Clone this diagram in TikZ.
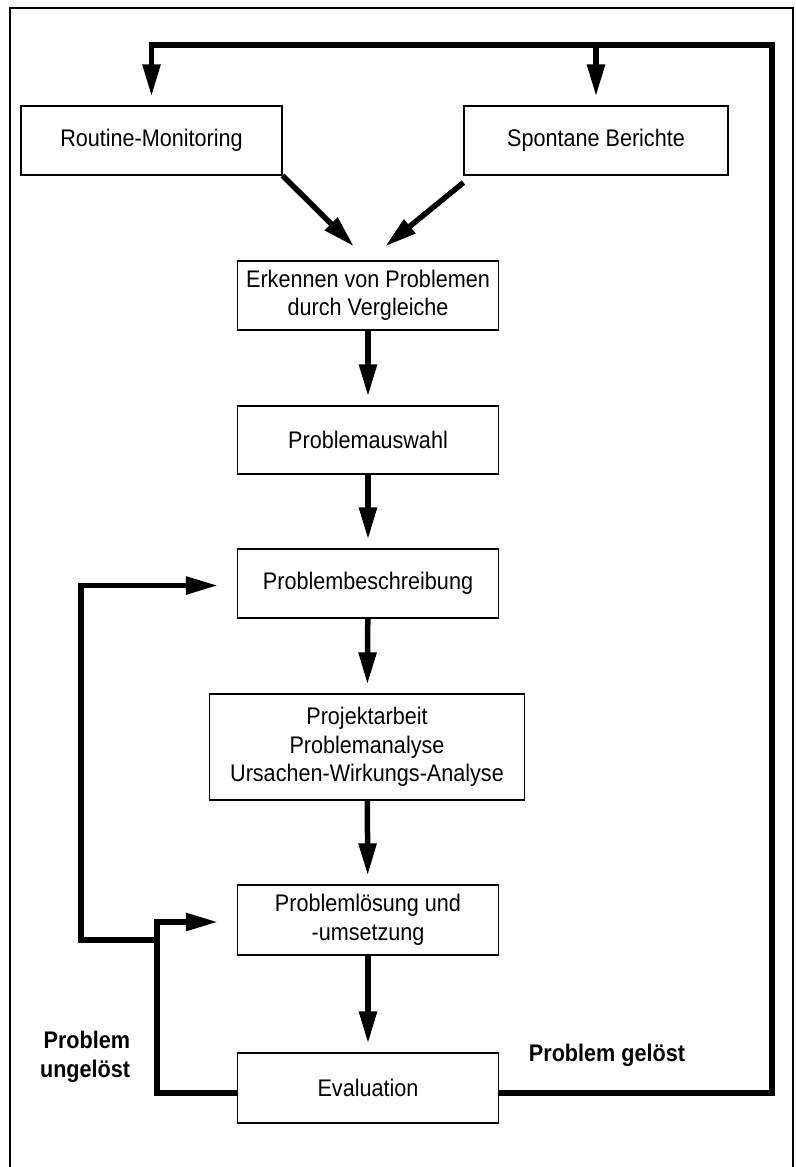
\documentclass[tikz,border=0pt]{standalone}
\usepackage{fontspec}
\setmainfont{Liberation Sans}[FakeStretch=0.9]
\usetikzlibrary{arrows.meta}

\tikzset{
  stepbox/.style={draw, line width=1.2pt, minimum width=261pt, minimum height=69pt,
    align=center, inner sep=2pt, font=\fontsize{24}{28.5}\selectfont},
  flowline/.style={line width=5.5pt, -{Triangle[length=32pt,width=17pt]}},
  loopline/.style={line width=5.5pt},
  outcome/.style={inner sep=0.75pt, font=\fontsize{24}{29}\selectfont\bfseries}
}

\begin{document}
\begin{tikzpicture}[x=1pt,y=1pt,yscale=-1,xscale=1]
\useasboundingbox (0,0) rectangle (795,1167);

%Frame
\draw [line width=2.5pt] (10,1175) -- (10,8) -- (793,8) -- (793,1175) ;

%Boxes
\node [stepbox] (rm) at (151.5,140.5) {Routine-Monitoring};
\node [stepbox, minimum width=264pt] (sb) at (596,140.5) {Spontane Berichte};
\node [stepbox] (erk) at (368,295.5) {Erkennen von Problemen\\durch Vergleiche};
\node [stepbox, minimum height=68pt] (ausw) at (368,440) {Problemauswahl};
\node [stepbox] (beschr) at (368,583.5) {Problembeschreibung};
\node [stepbox, minimum width=315pt, minimum height=106pt] (proj) at (367,747) {Projektarbeit\\Problemanalyse\\Ursachen-Wirkungs-Analyse};
\node [stepbox, minimum height=70pt] (loes) at (368,920) {Problemlösung und\\-umsetzung};
\node [stepbox, minimum height=70pt] (eval) at (368,1088) {Evaluation};

%Loop corners
\coordinate (rloop) at (772,45);
\coordinate (junc) at (157,940);
\coordinate (lloop) at (81,940);

%Arrows into Erkennen
\draw [flowline, shorten >=20pt] (rm.south east) -- (erk.north) ;
\draw [flowline, shorten >=22pt] ([yshift=7pt]sb.south west) -- (erk.north) ;

%Main chain
\draw [flowline, shorten >=9pt] (erk) -- (ausw) ;
\draw [flowline, shorten >=9pt] (ausw) -- (beschr) ;
\draw [flowline, shorten >=9pt] (beschr) -- (proj) ;
\draw [flowline, shorten >=9pt] (proj) -- (loes) ;
\draw [flowline, shorten >=9pt] (loes) -- (eval) ;

%Problem geloest
\draw [flowline, shorten >=9pt] ([yshift=5pt]eval.east) -| (rloop) -| (rm.north) ;
\draw [flowline, shorten >=9pt] (sb.north |- rloop) -- (sb.north) ;

%Problem ungeloest
\draw [loopline] ([yshift=5pt]eval.west) -| (junc) ;
\draw [flowline, shorten >=19pt] (junc) |- ([yshift=2pt]loes.west) ;
\draw [flowline, shorten >=19pt] (junc) -- (lloop) |- ([yshift=2pt]beschr.west) ;

% Text Node
\node [outcome, anchor=east, align=right] (ungeloest) at (131,1057) {Problem\\ungelöst};
% Text Node
\node [outcome, anchor=west] (geloest) at (528,1055) {Problem gelöst};

\end{tikzpicture}
\end{document}
